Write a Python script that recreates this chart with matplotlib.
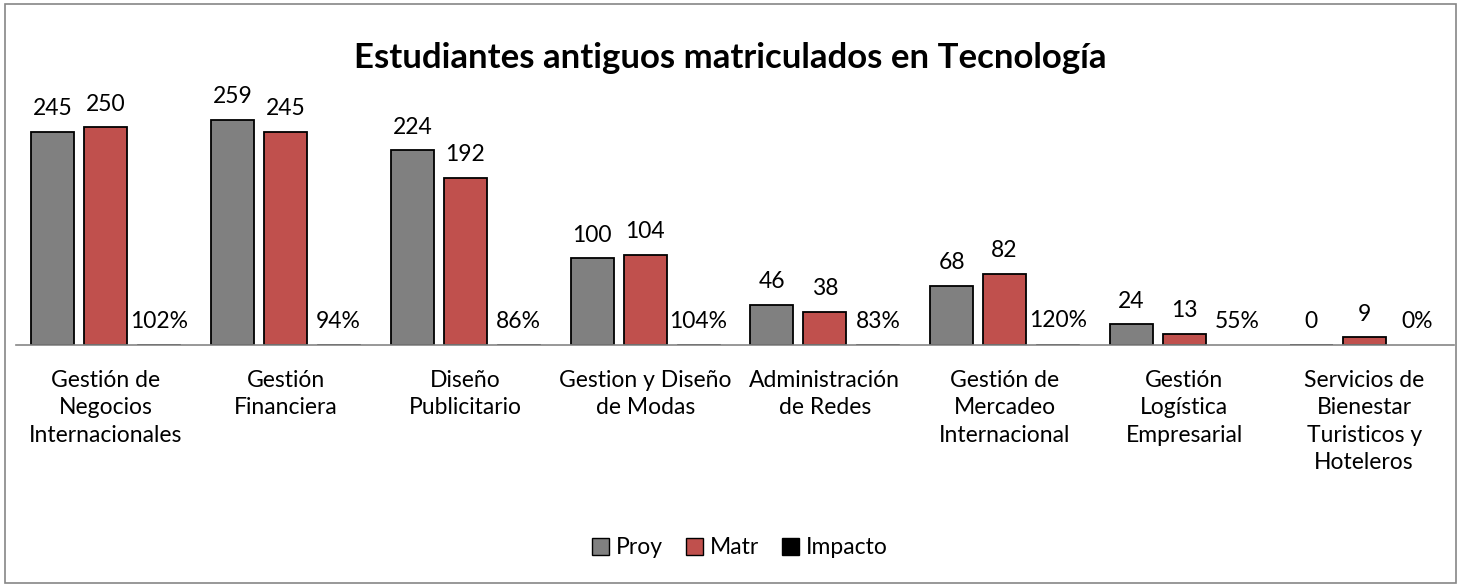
import matplotlib
matplotlib.use("Agg")
import matplotlib.pyplot as plt
from matplotlib.patches import Rectangle, Patch
import numpy as np

plt.rcParams["font.family"] = ["Lato", "DejaVu Sans"]

categories = [
    "Gestión de\nNegocios\nInternacionales",
    "Gestión\nFinanciera",
    "Diseño\nPublicitario",
    "Gestion y Diseño\nde Modas",
    "Administración\nde Redes",
    "Gestión de\nMercadeo\nInternacional",
    "Gestión\nLogística\nEmpresarial",
    "Servicios de\nBienestar\nTuristicos y\nHoteleros",
]
proy = [245, 259, 224, 100, 46, 68, 24, 0]
matr = [250, 245, 192, 104, 38, 82, 13, 9]
impacto = [1.02, 0.94, 0.86, 1.04, 0.83, 1.20, 0.55, 0.0]

GRAY = "#808080"
RED = "#C0504D"
W, H = 1461, 587
FS = 16.5

fig = plt.figure(figsize=(W / 100, H / 100), dpi=100)
ax = fig.add_axes([16 / W, (H - 345) / H, (1454 - 16) / W, 261 / H])

x = np.arange(len(categories))
bw = 0.24
off = 0.295
b1 = ax.bar(x - off, proy, bw, color=GRAY, edgecolor="black", linewidth=1.3)
b2 = ax.bar(x, matr, bw, color=RED, edgecolor="black", linewidth=1.3)
b3 = ax.bar(x + off, impacto, bw, color="black", edgecolor="black", linewidth=0.5)

for bars, vals, fmt in [(b1, proy, "{:d}"), (b2, matr, "{:d}"), (b3, impacto, "{:.0%}")]:
    for rect, v in zip(bars, vals):
        ax.annotate(fmt.format(v), (rect.get_x() + rect.get_width() / 2, rect.get_height()),
                    xytext=(0, 9), textcoords="offset points",
                    ha="center", va="bottom", fontsize=FS)

ax.set_xlim(-0.5, len(categories) - 0.5)
ax.set_ylim(0, 300)
ax.set_yticks([])
ax.set_xticks(x)
ax.set_xticklabels(categories, fontsize=FS, linespacing=1.38, va="top")
ax.tick_params(axis="x", length=0, pad=18)
for s in ["top", "right", "left"]:
    ax.spines[s].set_visible(False)
ax.spines["bottom"].set_color("#868686")
ax.spines["bottom"].set_linewidth(1.2)

fig.text(0.5, (H - 58) / H, "Estudiantes antiguos matriculados en Tecnología",
         ha="center", va="center", fontsize=25, fontweight="bold")

handles = [Patch(facecolor=GRAY, edgecolor="black"),
           Patch(facecolor=RED, edgecolor="black"),
           Patch(facecolor="black", edgecolor="black")]
fig.legend(handles, ["Proy", "Matr", "Impacto"], loc="center",
           bbox_to_anchor=(740 / W, (H - 548) / H), ncol=3, frameon=False,
           fontsize=FS, handlelength=0.75, handleheight=0.75, handletextpad=0.3,
           columnspacing=1.0)

fig.patches.append(Rectangle((5 / W, 4 / H), (W - 10) / W, (H - 8) / H,
                             transform=fig.transFigure, fill=False,
                             edgecolor="#868686", linewidth=1.2))

fig.savefig("out.png", dpi=100)
